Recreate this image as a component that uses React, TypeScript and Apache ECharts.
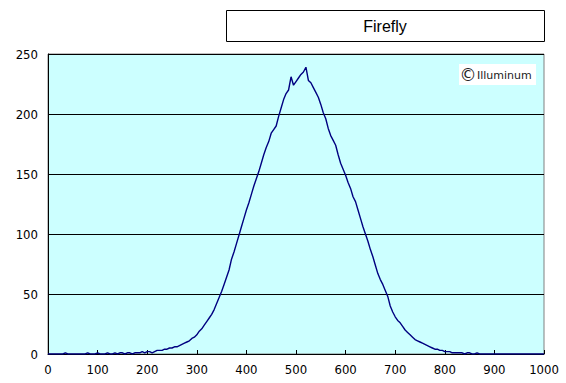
import React, { useEffect, useRef } from "react";
import * as echarts from "echarts";

const TITLE = "Firefly";
const WATERMARK = "Illuminum";
const xTicks = [0, 100, 200, 300, 400, 500, 600, 700, 800, 900, 1000];
const yTicks = [0, 50, 100, 150, 200, 250];
const binStep = 5;
// counts, one per 5 units from 0 to 1000
const counts = [
  0, 0, 0, 0, 0, 0, 0, 1, 0, 0, 0, 0, 0, 0, 0, 0, 1, 0, 0, 0,
  1, 0, 0, 0, 1, 0, 0, 1, 0, 1,
  1, 0, 1, 1, 0, 1, 1, 1, 2, 1,
  2, 2, 1, 2, 3, 3, 3, 4, 4, 5,
  5, 6, 6, 7, 8, 9, 10, 11, 13, 14,
  16, 19, 21, 24, 27, 30, 33, 37, 42, 47,
  52, 58, 64, 70, 79, 85, 92, 99, 106, 113,
  120, 126, 133, 140, 146, 152, 159, 166, 172, 177,
  184, 187, 190, 198, 205, 212, 217, 220, 231, 224,
  227, 230, 233, 235, 239, 228, 226, 222, 218, 214,
  208, 201, 196, 188, 182, 178, 174, 166, 159, 154,
  149, 143, 138, 131, 127, 120, 113, 106, 100, 94,
  87, 81, 74, 67, 62, 58, 53, 48, 40, 35,
  31, 28, 26, 23, 20, 18, 16, 14, 12, 11,
  10, 9, 8, 7, 6, 5, 4, 4, 3, 3,
  2, 2, 2, 1, 1, 1, 1, 1, 0, 1,
  1, 0, 0, 1, 0, 0, 0, 0, 0, 0,
  0, 0, 0, 0, 0, 0, 0, 0, 0, 0,
  0, 0, 0, 0, 0, 0, 0, 0, 0, 0,
  0,
];

export default function App() {
  const ref = useRef<HTMLDivElement>(null);
  useEffect(() => {
    document.body.style.margin = "0";
    const chart = echarts.init(ref.current!, null, { renderer: "svg" });
    const data = counts.map((c, i) => [i * binStep, c]);
    const labelFont = {
      fontFamily: "'Liberation Sans Narrow', 'DejaVu Sans Condensed', 'Liberation Sans', sans-serif",
      fontSize: 13,
      color: "#000",
    };
    chart.setOption({
      animation: false,
      backgroundColor: "#ffffff",
      grid: {
        left: 48,
        right: 22,
        top: 54,
        bottom: 29,
        show: true,
        backgroundColor: "#CCFFFF",
        borderColor: "#808080",
        borderWidth: 1,
      },
      xAxis: {
        type: "value",
        min: xTicks[0],
        max: xTicks[xTicks.length - 1],
        interval: xTicks[1] - xTicks[0],
        axisLine: { show: true, onZero: false, lineStyle: { color: "#000", width: 1 } },
        axisTick: { show: true, inside: true, length: 4, lineStyle: { color: "#000" } },
        axisLabel: { ...labelFont, margin: 9, formatter: (v: number) => String(v) },
        splitLine: { show: false },
      },
      yAxis: {
        type: "value",
        min: yTicks[0],
        max: yTicks[yTicks.length - 1],
        interval: yTicks[1] - yTicks[0],
        axisLine: { show: true, lineStyle: { color: "#000", width: 1 } },
        axisTick: { show: true, inside: true, length: 4, lineStyle: { color: "#000" } },
        axisLabel: { ...labelFont, margin: 10, formatter: (v: number) => String(v) },
        splitLine: { show: true, lineStyle: { color: "#000", width: 1 } },
      },
      series: [
        {
          type: "line",
          data,
          showSymbol: false,
          symbol: "none",
          lineStyle: { color: "#000080", width: 1.4 },
          z: 5,
        },
      ],
      graphic: [
        {
          type: "rect",
          shape: { x: 226.5, y: 10.5, width: 318, height: 31 },
          style: { fill: "#fff", stroke: "#000", lineWidth: 1 },
        },
        {
          type: "text",
          x: 385,
          y: 26,
          style: {
            text: TITLE,
            fill: "#000",
            font: "16px 'Liberation Sans', 'DejaVu Sans', sans-serif",
            textAlign: "center",
            textVerticalAlign: "middle",
          },
        },
        {
          type: "rect",
          z: 10,
          shape: { x: 459, y: 64, width: 77, height: 21 },
          style: { fill: "#fff", stroke: null },
        },
        {
          type: "text",
          z: 11,
          x: 468,
          y: 74.5,
          style: {
            text: "©",
            fill: "#222",
            font: "17px 'DejaVu Sans', sans-serif",
            textAlign: "center",
            textVerticalAlign: "middle",
          },
        },
        {
          type: "text",
          z: 11,
          x: 477,
          y: 75,
          style: {
            text: WATERMARK,
            fill: "#222",
            font: "11px 'DejaVu Sans', sans-serif",
            textAlign: "left",
            textVerticalAlign: "middle",
          },
        },
      ],
    });
    return () => chart.dispose();
  }, []);
  return (
    <div
      ref={ref}
      style={{ position: "fixed", left: 0, top: 0, width: 566, height: 383 }}
    />
  );
}
